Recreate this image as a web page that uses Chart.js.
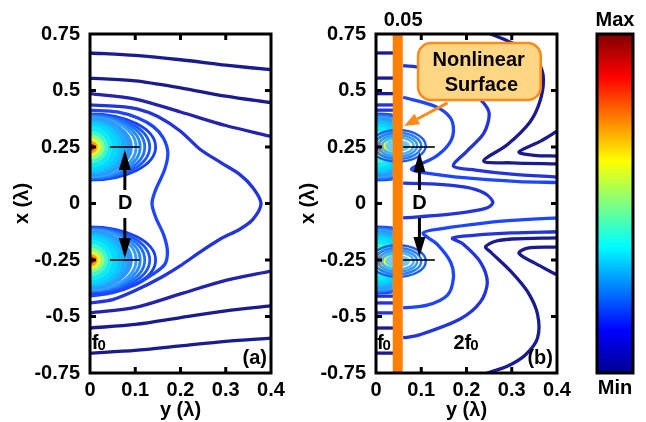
<!DOCTYPE html>
<html>
<head>
<meta charset="utf-8">
<script src="https://cdn.jsdelivr.net/npm/chart.js@4.4.0/dist/chart.umd.min.js"></script>
<style>
  body { margin: 0; background: #fff; width: 646px; height: 422px; position: relative; overflow: hidden; }
  canvas { position: absolute; top: 0; }
</style>
</head>
<body>
<canvas id="panelA" width="290" height="422" style="left:0px"></canvas>
<canvas id="panelB" width="290" height="422" style="left:286px"></canvas>
<canvas id="cbar" width="66" height="422" style="left:580px"></canvas>
<script>
// axes (horizontal = y in lambda, vertical = x in lambda)
const xTickValues = [0, 0.1, 0.2, 0.3, 0.4];
const xTickLabels = ['0', '0.1', '0.2', '0.3', '0.4'];
const yTickValues = [-0.75, -0.5, -0.25, 0, 0.25, 0.5, 0.75];
const yTickLabels = ['-0.75', '-0.5', '-0.25', '0', '0.25', '0.5', '0.75'];
const xAxisTitle = 'y (λ)';
const yAxisTitle = 'x (λ)';

// source positions and filled contour rings around them (first five are outline rings)
const sourceX = [0.25, -0.25];
const ringYExt = [0.145, 0.132, 0.121, 0.111, 0.102, 0.095, 0.083, 0.072, 0.062, 0.050, 0.040, 0.032, 0.024, 0.017, 0.010];
const ringXExt = [0.147, 0.143, 0.139, 0.135, 0.132, 0.130, 0.124, 0.116, 0.106, 0.092, 0.072, 0.055, 0.040, 0.028, 0.016];
const ringColors = ['#1a40ff', '#1c58ff', '#2070ff', '#2888ff', '#30a0ff',
                    '#2f94ff', '#1eacff', '#10c4ff', '#06d8ff', '#10eaf4', '#40f8d0', '#90ff80', '#e8f82c', '#ffa000', '#e41000'];

// panel (a) contour lines, [y, x]
const a1 = [[0, 0.666], [0.1, 0.655], [0.2, 0.636], [0.3, 0.612], [0.4, 0.592]];
const a2 = [[0, 0.555], [0.1, 0.543], [0.2, 0.512], [0.3, 0.475], [0.4, 0.446]];
const a3 = [[0, 0.486], [0.1, 0.462], [0.2, 0.405], [0.3, 0.345], [0.4, 0.297]];
const aApex = [[0, 0.436], [0.06, 0.43], [0.106, 0.418], [0.15, 0.385], [0.2, 0.32], [0.243, 0.24], [0.29, 0.18],
               [0.33, 0.13], [0.36, 0.07], [0.378, 0], [0.36, -0.07], [0.33, -0.115], [0.29, -0.155], [0.243, -0.215],
               [0.2, -0.275], [0.159, -0.325], [0.1, -0.385], [0.05, -0.425], [0, -0.44]];
const aWaist = [[0, 0.413], [0.06, 0.405], [0.106, 0.378], [0.14, 0.34], [0.162, 0.29], [0.172, 0.225], [0.165, 0.15],
                [0.145, 0.06], [0.137, 0], [0.145, -0.06], [0.163, -0.14], [0.171, -0.21], [0.165, -0.27],
                [0.137, -0.315], [0.1, -0.36], [0.05, -0.395], [0, -0.41]];
const a4 = [[0, -0.484], [0.1, -0.46], [0.2, -0.40], [0.3, -0.34], [0.4, -0.299]];
const a5 = [[0, -0.551], [0.1, -0.535], [0.2, -0.505], [0.3, -0.475], [0.4, -0.453]];
const a6 = [[0, -0.662], [0.1, -0.65], [0.2, -0.63], [0.3, -0.61], [0.4, -0.596]];

// panel (b): surface position, short f0 contours left of it, 2f0 contours right of it
const barY = 0.048;
const barLabel = '0.05';
const bLeftLevels = [0.666, 0.555, 0.486, 0.436, 0.413, -0.41, -0.44, -0.484, -0.551, -0.662];
const smallRingY = [0.062, 0.052, 0.043, 0.035, 0.027];
const smallRingX = [0.070, 0.058, 0.047, 0.037, 0.027];
const smallRingColors = ['#1f5cff', '#2a7cff', '#3898ff', '#48b0ff', '#6ccaff'];
const smallRingCenters = [0.255, -0.255];

const bB = [[0.06, 0.61], [0.1, 0.6], [0.187, 0.53], [0.231, 0.46], [0.25, 0.40], [0.238, 0.31], [0.2, 0.23],
            [0.171, 0.166], [0.22, 0.148], [0.3, 0.13], [0.4, 0.117]];
const bA = [[0.06, 0.47], [0.13, 0.43], [0.164, 0.38], [0.171, 0.316], [0.16, 0.26], [0.13, 0.205], [0.093, 0.17],
            [0.078, 0.152], [0.1, 0.138], [0.2, 0.113], [0.316, 0.097], [0.4, 0.093]];
const bE = [[0.06, 0.09], [0.12, 0.087], [0.198, 0.072], [0.24, 0.045], [0.258, 0.008], [0.252, -0.012],
            [0.238, -0.024], [0.2, -0.038], [0.164, -0.047], [0.1, -0.058], [0.06, -0.064]];
const bL = [[0.4, -0.064], [0.3, -0.075], [0.238, -0.087], [0.15, -0.11], [0.104, -0.13], [0.135, -0.18],
            [0.165, -0.26], [0.171, -0.33], [0.158, -0.405], [0.113, -0.45], [0.06, -0.462]];
const bBlueV = [[0.4, -0.125], [0.3, -0.13], [0.22, -0.14], [0.169, -0.153], [0.193, -0.18], [0.231, -0.26],
                [0.246, -0.35], [0.231, -0.435], [0.187, -0.51], [0.098, -0.58], [0.06, -0.595]];
const bDarkU = [[0.4, 0.175], [0.3, 0.18], [0.238, 0.188], [0.29, 0.26], [0.34, 0.36], [0.362, 0.45], [0.37, 0.55],
                [0.36, 0.62], [0.33, 0.68], [0.29, 0.72], [0.253, 0.75]];
const bDarkL = [[0.4, -0.152], [0.3, -0.157], [0.262, -0.168], [0.242, -0.192], [0.253, -0.214], [0.298, -0.30],
                [0.335, -0.39], [0.357, -0.49], [0.357, -0.595], [0.33, -0.67], [0.29, -0.72], [0.245, -0.75]];
const bInnerU = [[0.4, 0.32], [0.364, 0.276], [0.316, 0.228], [0.35, 0.213], [0.4, 0.21]];
const bInnerL = [[0.4, -0.193], [0.335, -0.197], [0.316, -0.22], [0.35, -0.263], [0.4, -0.316]];

// colour bar
const cbarLabels = ['Max', 'Min'];
const cbarStops = [0, 0.125, 0.375, 0.625, 0.875, 1];
const cbarColors = ['#00008f', '#0000ff', '#00ffff', '#ffff00', '#ff0000', '#800000'];

const FONT = "'Liberation Sans', Arial, Helvetica, sans-serif";
Chart.defaults.font.family = FONT;
Chart.defaults.color = '#000';

const NAVY = '#1b1b90';
const DEEP = '#2323ad';
const BLUE = '#2334d8';
const BRIGHT = '#1f46ff';

function lineDs(pts, color, width, order) {
  return {
    data: pts.map(p => ({ x: p[0], y: p[1] })),
    showLine: true,
    borderColor: color,
    borderWidth: width || 3.3,
    pointRadius: 0,
    fill: false,
    order: order === undefined ? 2 : order
  };
}

function drawRings(ctx, xs, ys, cy, cx, yExt, xExt, colors, strokeCount, lw) {
  const px = xs.getPixelForValue(cy), py = ys.getPixelForValue(cx);
  for (let i = 0; i < yExt.length; i++) {
    const rx = xs.getPixelForValue(cy + yExt[i]) - px;
    const ry = py - ys.getPixelForValue(cx + xExt[i]);
    ctx.beginPath();
    ctx.ellipse(px, py, rx, ry, 0, 0, Math.PI * 2);
    if (i < strokeCount) {
      ctx.strokeStyle = colors[i];
      ctx.lineWidth = lw;
      ctx.stroke();
    } else {
      ctx.fillStyle = colors[i];
      ctx.fill();
    }
  }
}

function arrow(ctx, x0, y0, x1, y1, color, lw, headLen, headW) {
  const ang = Math.atan2(y1 - y0, x1 - x0);
  const bx = x1 - headLen * Math.cos(ang), by = y1 - headLen * Math.sin(ang);
  ctx.strokeStyle = color;
  ctx.fillStyle = color;
  ctx.lineWidth = lw;
  ctx.beginPath();
  ctx.moveTo(x0, y0);
  ctx.lineTo(bx, by);
  ctx.stroke();
  ctx.beginPath();
  ctx.moveTo(x1, y1);
  ctx.lineTo(bx + headW / 2 * Math.sin(ang), by - headW / 2 * Math.cos(ang));
  ctx.lineTo(bx - headW / 2 * Math.sin(ang), by + headW / 2 * Math.cos(ang));
  ctx.closePath();
  ctx.fill();
}

const panelDecor = {
  id: 'panelDecor',
  beforeDatasetsDraw(chart, args, opts) {
    const { ctx, chartArea: a, scales: { x, y } } = chart;
    // heat map of the f0 sources
    ctx.save();
    const right = opts.heatRight === undefined ? a.right : x.getPixelForValue(opts.heatRight);
    ctx.beginPath();
    ctx.rect(a.left, a.top, right - a.left, a.bottom - a.top);
    ctx.clip();
    sourceX.forEach(c => drawRings(ctx, x, y, 0, c, ringYExt, ringXExt, ringColors, 5, 2.8));
    ctx.restore();
    if (opts.smallRings) {
      ctx.save();
      ctx.beginPath();
      ctx.rect(a.left, a.top, a.right - a.left, a.bottom - a.top);
      ctx.clip();
      smallRingCenters.forEach(c => drawRings(ctx, x, y, barY, c, smallRingY, smallRingX, smallRingColors, 4, 2.4));
      ctx.restore();
    }
  },
  afterDatasetsDraw(chart, args, opts) {
    const { ctx, chartArea: a, scales: { x, y } } = chart;
    ctx.save();
    // dimension lines and D arrows
    ctx.strokeStyle = '#000';
    ctx.lineWidth = 1.6;
    (opts.dims || []).forEach(d => {
      const py = y.getPixelForValue(d.x);
      ctx.beginPath();
      ctx.moveTo(x.getPixelForValue(d.y0), py);
      ctx.lineTo(x.getPixelForValue(d.y1), py);
      ctx.stroke();
    });
    (opts.arrows || []).forEach(r => {
      const px = x.getPixelForValue(r.y);
      arrow(ctx, px, y.getPixelForValue(r.from), px, y.getPixelForValue(r.to), '#000', 3, 20, 12);
    });
    // callout box
    if (opts.box) {
      const b = opts.box;
      const l = x.getPixelForValue(b.y0), rr = x.getPixelForValue(b.y1);
      const t = y.getPixelForValue(b.xTop), bt = y.getPixelForValue(b.xBot);
      const rad = 13;
      ctx.beginPath();
      ctx.moveTo(l + rad, t);
      ctx.arcTo(rr, t, rr, bt, rad);
      ctx.arcTo(rr, bt, l, bt, rad);
      ctx.arcTo(l, bt, l, t, rad);
      ctx.arcTo(l, t, rr, t, rad);
      ctx.closePath();
      ctx.fillStyle = '#ffd684';
      ctx.fill();
      ctx.strokeStyle = '#ff8a1c';
      ctx.lineWidth = 2.6;
      ctx.stroke();
      ctx.fillStyle = '#000';
      ctx.font = 'bold 20px ' + FONT;
      ctx.textAlign = 'center';
      ctx.textBaseline = 'middle';
      b.lines.forEach(ln => ctx.fillText(ln.text, x.getPixelForValue(ln.y), y.getPixelForValue(ln.x)));
      const p = b.pointer;
      arrow(ctx, x.getPixelForValue(p.y0), y.getPixelForValue(p.x0), x.getPixelForValue(p.y1), y.getPixelForValue(p.x1),
            '#ff8a1c', 3, 15, 12);
    }
    // texts
    ctx.fillStyle = '#000';
    (opts.texts || []).forEach(tx => {
      ctx.font = 'bold 20px ' + FONT;
      ctx.textAlign = tx.align || 'center';
      ctx.textBaseline = tx.base || 'middle';
      ctx.fillText(tx.text, x.getPixelForValue(tx.y), y.getPixelForValue(tx.x));
    });
    (opts.subs || []).forEach(s => {
      const px = x.getPixelForValue(s.y), py = y.getPixelForValue(s.x);
      ctx.textAlign = 'left';
      ctx.textBaseline = 'alphabetic';
      ctx.font = 'bold 20px ' + FONT;
      ctx.fillText(s.main, px, py);
      const w = ctx.measureText(s.main).width;
      ctx.font = 'bold 15px ' + FONT;
      ctx.fillText(s.sub, px + w - 1, py + 1);
    });
    // frame and inward ticks
    ctx.strokeStyle = '#000';
    ctx.lineWidth = 3;
    ctx.strokeRect(a.left, a.top, a.right - a.left, a.bottom - a.top);
    const tl = 6;
    ctx.beginPath();
    yTickValues.slice(1, -1).forEach(v => {
      const py = y.getPixelForValue(v);
      ctx.moveTo(a.left, py); ctx.lineTo(a.left + tl, py);
      ctx.moveTo(a.right, py); ctx.lineTo(a.right - tl, py);
    });
    xTickValues.slice(1, -1).forEach(v => {
      const px = x.getPixelForValue(v);
      ctx.moveTo(px, a.top); ctx.lineTo(px, a.top + tl);
      ctx.moveTo(px, a.bottom); ctx.lineTo(px, a.bottom - tl);
    });
    ctx.stroke();
    ctx.restore();
  }
};

function panelConfig(datasets, decor) {
  return {
    type: 'scatter',
    data: { datasets },
    options: {
      responsive: false,
      animation: false,
      devicePixelRatio: 1,
      layout: { padding: { top: 34, right: 19, left: 0, bottom: 0 } },
      elements: { line: { tension: 0.3 } },
      plugins: { legend: { display: false }, tooltip: { enabled: false }, panelDecor: decor },
      scales: {
        x: {
          type: 'linear', min: 0, max: 0.4,
          grid: { display: false, drawTicks: false },
          border: { display: false },
          afterBuildTicks: s => { s.ticks = xTickValues.map(v => ({ value: v })); },
          afterFit: s => { s.height = 49; },
          ticks: {
            padding: 5, autoSkip: false, maxRotation: 0,
            font: { size: 20, weight: 'bold' },
            callback: v => xTickLabels[xTickValues.indexOf(v)]
          },
          title: { display: true, text: xAxisTitle, font: { size: 20, weight: 'bold' }, padding: { top: 0, bottom: 0 } }
        },
        y: {
          type: 'linear', min: -0.75, max: 0.75,
          grid: { display: false, drawTicks: false },
          border: { display: false },
          afterBuildTicks: s => { s.ticks = yTickValues.map(v => ({ value: v })); },
          afterFit: s => { s.width = 90; },
          ticks: {
            padding: 10, autoSkip: false,
            font: { size: 20, weight: 'bold' },
            callback: v => yTickLabels[yTickValues.indexOf(v)]
          },
          title: { display: true, text: yAxisTitle, font: { size: 20, weight: 'bold' }, padding: { top: 10, bottom: 0 } }
        }
      }
    },
    plugins: [panelDecor]
  };
}

// panel (a)
new Chart(document.getElementById('panelA'), panelConfig([
  lineDs(a1, NAVY), lineDs(a2, NAVY), lineDs(a3, DEEP),
  lineDs(aApex, BLUE), lineDs(aWaist, BRIGHT),
  lineDs(a4, DEEP), lineDs(a5, NAVY), lineDs(a6, NAVY)
], {
  dims: [{ y0: 0.044, y1: 0.11, x: 0.25 }, { y0: 0.044, y1: 0.11, x: -0.25 }],
  arrows: [{ y: 0.077, from: 0.06, to: 0.237 }, { y: 0.077, from: -0.064, to: -0.241 }],
  texts: [
    { text: 'D', y: 0.078, x: 0 },
    { text: '(a)', y: 0.391, x: -0.71, align: 'right', base: 'alphabetic' }
  ],
  subs: [{ main: 'f', sub: '0', y: 0.004, x: -0.644 }]
}));

// panel (b)
new Chart(document.getElementById('panelB'), panelConfig([
  lineDs([[barY, -0.75], [barY, 0.75]], '#ff7f00', 10, 0),
  ...bLeftLevels.map(v => lineDs([[0, v], [0.045, v]], v > 0.45 || v < -0.5 ? NAVY : BLUE)),
  lineDs(bB, BLUE), lineDs(bA, BRIGHT), lineDs(bE, BLUE), lineDs(bL, BRIGHT), lineDs(bBlueV, BLUE),
  lineDs(bDarkU, NAVY), lineDs(bDarkL, NAVY), lineDs(bInnerU, NAVY), lineDs(bInnerL, NAVY)
], {
  heatRight: 0.037,
  smallRings: true,
  dims: [{ y0: 0.06, y1: 0.13, x: 0.25 }, { y0: 0.06, y1: 0.13, x: -0.25 }],
  arrows: [{ y: 0.096, from: 0.06, to: 0.228 }, { y: 0.096, from: -0.064, to: -0.237 }],
  box: {
    y0: 0.093, y1: 0.364, xTop: 0.71, xBot: 0.458,
    lines: [{ text: 'Nonlinear', y: 0.227, x: 0.632 }, { text: 'Surface', y: 0.233, x: 0.52 }],
    pointer: { y0: 0.158, x0: 0.445, y1: 0.062, x1: 0.343 }
  },
  texts: [
    { text: 'D', y: 0.096, x: 0 },
    { text: barLabel, y: 0.06, x: 0.808 },
    { text: '(b)', y: 0.391, x: -0.71, align: 'right', base: 'alphabetic' }
  ],
  subs: [{ main: 'f', sub: '0', y: 0.002, x: -0.644 }, { main: '2f', sub: '0', y: 0.171, x: -0.644 }]
}));

// colour bar
const cbarDecor = {
  id: 'cbarDecor',
  afterDraw(chart) {
    const { ctx, chartArea: a } = chart;
    ctx.save();
    ctx.strokeStyle = '#000';
    ctx.lineWidth = 3;
    ctx.strokeRect(a.left, a.top, a.right - a.left, a.bottom - a.top);
    ctx.fillStyle = '#000';
    ctx.font = 'bold 20px ' + FONT;
    ctx.textAlign = 'center';
    ctx.textBaseline = 'middle';
    const cx = (a.left + a.right) / 2;
    ctx.fillText(cbarLabels[0], cx, a.top - 14);
    ctx.fillText(cbarLabels[1], cx, a.bottom + 15);
    ctx.restore();
  }
};

new Chart(document.getElementById('cbar'), {
  type: 'bar',
  data: {
    labels: ['scale'],
    datasets: [{
      data: [1],
      borderWidth: 0,
      barPercentage: 1,
      categoryPercentage: 1,
      backgroundColor: c => {
        const area = c.chart.chartArea;
        if (!area) return cbarColors[0];
        const g = c.chart.ctx.createLinearGradient(0, area.bottom, 0, area.top);
        cbarStops.forEach((s, i) => g.addColorStop(s, cbarColors[i]));
        return g;
      }
    }]
  },
  options: {
    responsive: false,
    animation: false,
    devicePixelRatio: 1,
    layout: { padding: { left: 17, right: 13, top: 34, bottom: 49 } },
    plugins: { legend: { display: false }, tooltip: { enabled: false } },
    scales: {
      x: { display: false },
      y: { display: false, min: 0, max: 1 }
    }
  },
  plugins: [cbarDecor]
});
</script>
</body>
</html>
